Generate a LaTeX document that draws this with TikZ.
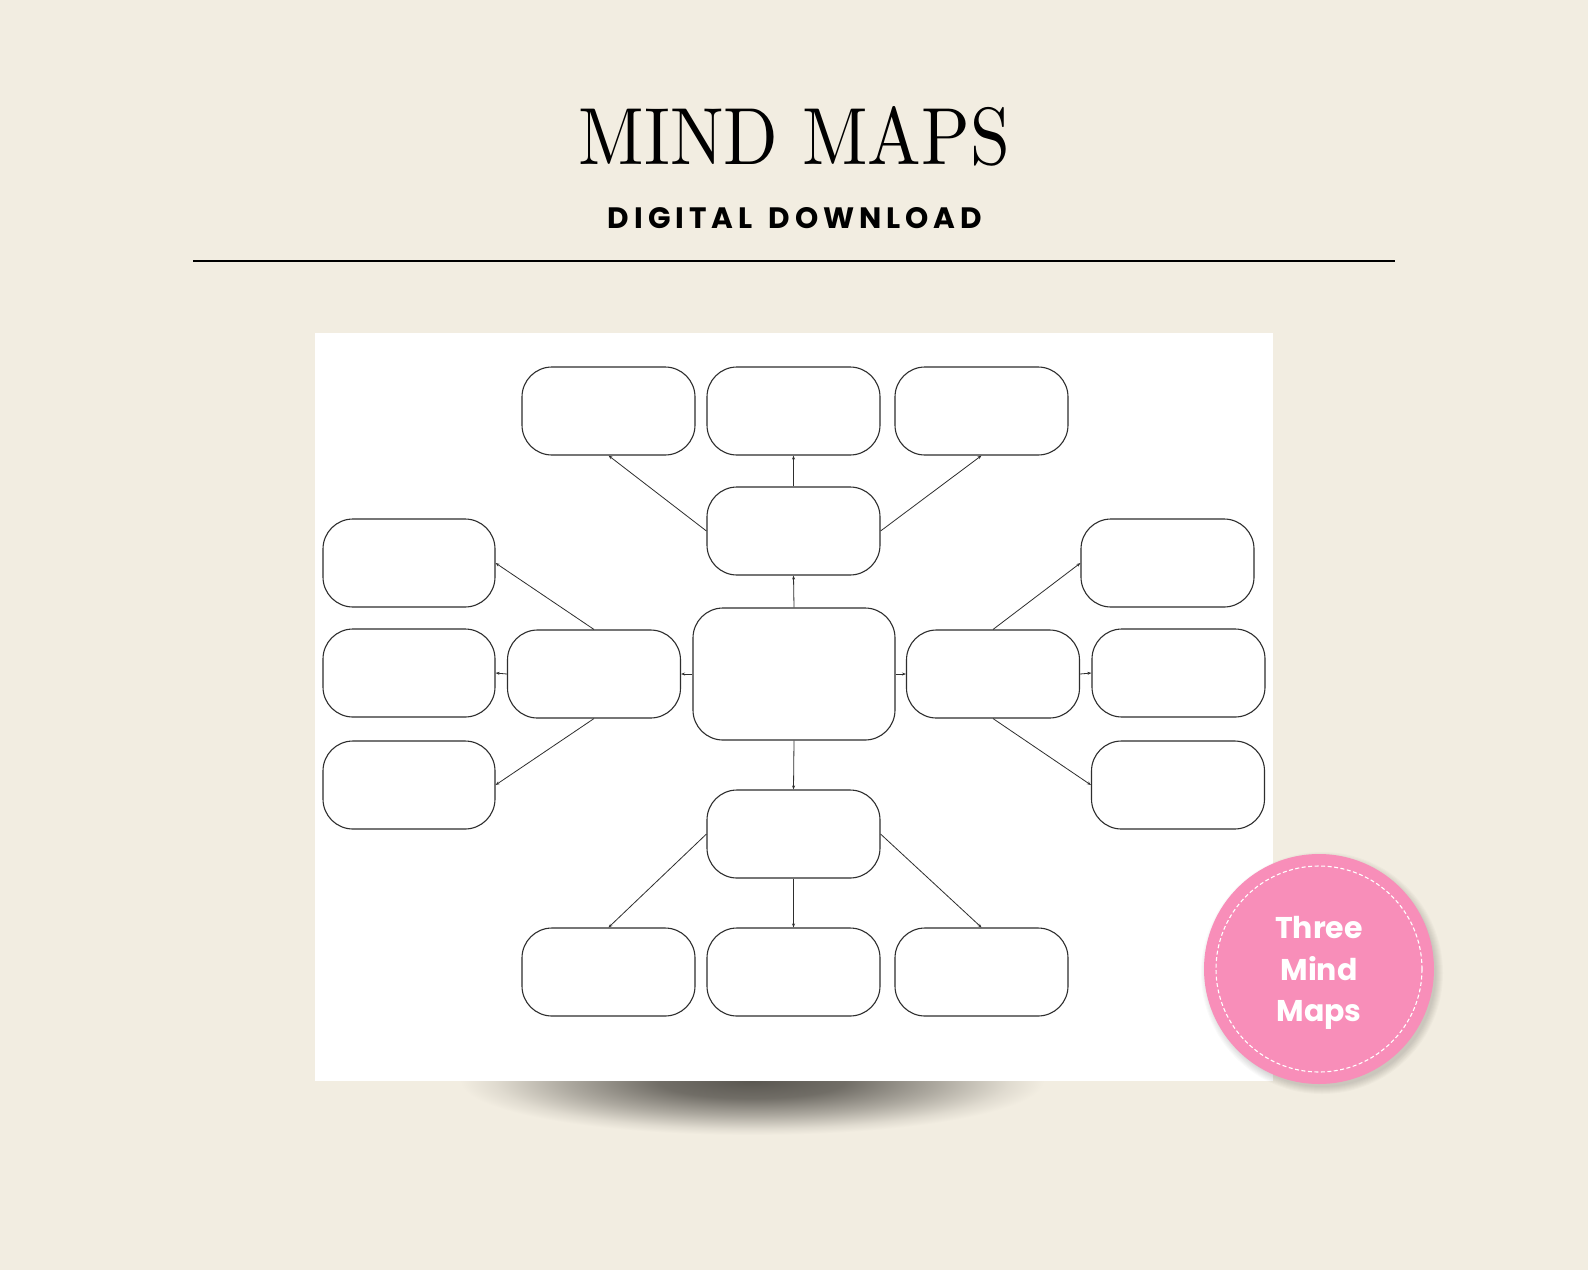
\documentclass[tikz,border=0pt]{standalone}
\usepackage{fontspec}
\usetikzlibrary{arrows.meta}
\newfontfamily\popfont{Poppins}
\definecolor{bgc}{HTML}{F2EDE1}
\definecolor{shd}{HTML}{5A5751}
\definecolor{pinkc}{RGB}{248,142,185}
\definecolor{linec}{HTML}{2E2E2E}
\pgfdeclareradialshading{shadowsh}{\pgfpoint{0bp}{0bp}}{color(0bp)=(shd); color(8bp)=(shd!85!bgc); color(16bp)=(shd!45!bgc); color(22bp)=(shd!12!bgc); color(25bp)=(bgc); color(50bp)=(bgc)}
\tikzset{
  mbox/.style={draw=linec, line width=1.1pt, rounded corners=30pt, fill=white,
    minimum width=173pt, minimum height=88pt, inner sep=0pt},
  conn/.style={draw=linec, line width=0.8pt, -{Stealth[length=4pt,width=3pt]}},
}
\begin{document}
\begin{tikzpicture}[x=1pt,y=-1pt]
\useasboundingbox (0,0) rectangle (1588,1270);
\fill[bgc] (0,0) rectangle (1588,1270);
% title
\node[inner sep=0pt, anchor=north] (title) at (794.5,106) {\resizebox{431pt}{58pt}{MIND MAPS}};
\node[inner sep=0pt, anchor=north] (sub) at (795,207) {\resizebox{374pt}{21pt}{\popfont\bfseries D\,I\,G\,I\,T\,A\,L\hspace{0.55em}D\,O\,W\,N\,L\,O\,A\,D}};
\draw[line width=2pt, black] (193,261) -- (1395,261);
% shadow under paper
\shade[shading=shadowsh] (752,1081) ellipse [x radius=292, y radius=54];
% paper
\fill[white] (315,333) rectangle (1273,1081);
% boxes
\node[mbox] (t1) at (608.5,411) {};
\node[mbox] (t2) at (793.5,411) {};
\node[mbox] (t3) at (981.5,411) {};
\node[mbox] (um) at (793.5,531) {};
\node[mbox, minimum width=202pt, minimum height=132pt] (c) at (794,674) {};
\node[mbox] (lm) at (594,674) {};
\node[mbox] (rm) at (993,674) {};
\node[mbox, minimum width=172pt] (l1) at (409,563) {};
\node[mbox, minimum width=172pt] (l2) at (409,673) {};
\node[mbox, minimum width=172pt] (l3) at (409,785) {};
\node[mbox] (r1) at (1167.5,563) {};
\node[mbox] (r2) at (1178.5,673) {};
\node[mbox] (r3) at (1178,785) {};
\node[mbox] (dm) at (793.5,834) {};
\node[mbox] (b1) at (608.5,972) {};
\node[mbox] (b2) at (793.5,972) {};
\node[mbox] (b3) at (981.5,972) {};
% connectors
\draw[conn] (um.north) -- (t2.south);
\draw[conn] (um.west) -- (t1.south);
\draw[conn] (um.east) -- (t3.south);
\draw[conn] (c.north) -- (um.south);
\draw[conn] (c.west) -- (lm.east);
\draw[conn] (c.east) -- (rm.west);
\draw[conn] (c.south) -- (dm.north);
\draw[conn] (lm.north) -- (l1.east);
\draw[conn] (lm.west) -- (l2.east);
\draw[conn] (lm.south) -- (l3.east);
\draw[conn] (rm.north) -- (r1.west);
\draw[conn] (rm.east) -- (r2.west);
\draw[conn] (rm.south) -- (r3.west);
\draw[conn] (dm.west) -- (b1.north);
\draw[conn] (dm.south) -- (b2.north);
\draw[conn] (dm.east) -- (b3.north);
% badge shadow
\foreach \r in {0,1,...,7} {
  \fill[black, opacity=0.018] (1322,973) circle [radius=114+\r];
}
\fill[pinkc] (1319,969) circle [radius=115];
\draw[white, line width=1.1pt, dash pattern=on 4pt off 2.5pt] (1319,969) circle [radius=103];
\node[inner sep=0pt, align=center, text=white, font={\popfont\bfseries\fontsize{30}{41.5}\selectfont}] (badge) at (1319,973) {Three\\Mind\\Maps};
\end{tikzpicture}
\end{document}
